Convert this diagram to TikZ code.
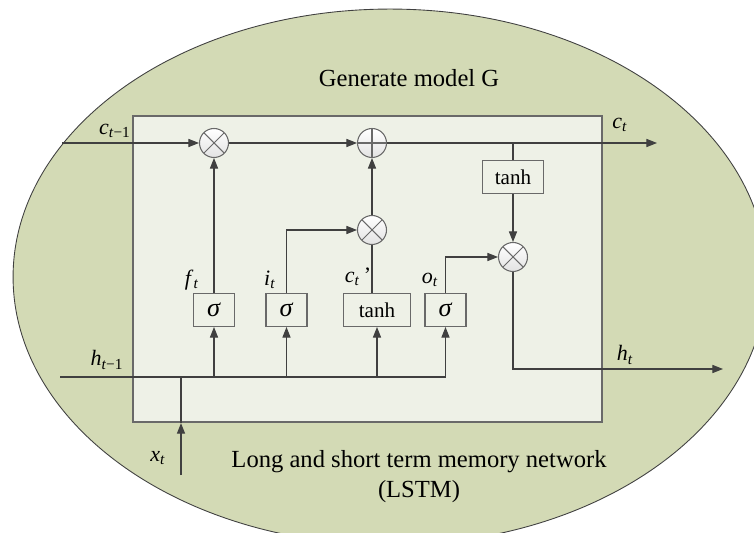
\documentclass[tikz,border=0pt]{standalone}
\usepackage{fontspec}
\setmainfont{Liberation Serif}
\usetikzlibrary{arrows.meta}

\definecolor{ovalgreen}{RGB}{211,218,181}
\definecolor{cellfill}{RGB}{238,241,231}
\definecolor{linegray}{RGB}{64,64,64}
\definecolor{framegray}{RGB}{105,105,105}

\newcommand{\sym}[2]{\textit{#1}\textsubscript{#2}}
\newcommand{\sig}{{\fontsize{15}{16}\selectfont\textit{σ}}}

\tikzset{
  flow/.style={draw=linegray, line width=0.6pt},
  arr/.style={flow, -{Triangle[length=6pt,width=4.6pt]}},
  gatebox/.style={draw=framegray, fill=cellfill, line width=0.6pt,
    minimum width=0.82cm, minimum height=0.66cm, inner sep=0pt,
    font=\fontsize{12}{14}\selectfont},
  opcircle/.style={circle, draw=framegray, line width=0.6pt,
    top color=white, bottom color=gray!22, minimum size=0.58cm, inner sep=0pt},
  mulop/.style={opcircle, path picture={
    \draw[framegray, line width=0.6pt] (path picture bounding box.center)
      +(45:0.3cm) -- +(225:0.3cm) +(135:0.3cm) -- +(-45:0.3cm);}},
  addop/.style={opcircle, path picture={
    \draw[framegray, line width=0.6pt] (path picture bounding box.center)
      +(0:0.3cm) -- +(180:0.3cm) +(90:0.3cm) -- +(-90:0.3cm);}},
  lab/.style={font=\fontsize{12.5}{14}\selectfont, inner sep=0pt},
  title/.style={font=\fontsize{14}{17}\selectfont, inner sep=0pt, align=center},
}

\begin{document}
\begin{tikzpicture}[x=0.02cm, y=-0.02cm]
\useasboundingbox (0,0) rectangle (754,533);
\clip (0,0) rectangle (754,533);

% ---------- Generate model G ----------
\draw[draw=linegray, fill=ovalgreen, line width=0.5pt]
  (390,277) ellipse [x radius=7.54cm, y radius=5.36cm];
\node[title] (gen) at (409,78) {Generate model G};

% ---------- LSTM cell ----------
\node[draw=framegray, fill=cellfill, line width=1pt, inner sep=0pt,
  minimum width=9.39cm, minimum height=6.13cm] (cell) at (367.5,269) {};

\node[mulop] (mf) at (214,143) {};
\node[addop] (ma) at (372,143) {};
\node[mulop] (mi) at (372,230) {};
\node[mulop] (mo) at (513,257) {};

\node[gatebox] (sf) at (214,310) {\sig};
\node[gatebox] (si) at (286.5,310) {\sig};
\node[gatebox, minimum width=1.34cm] (tc) at (377,310) {tanh};
\node[gatebox] (so) at (445.5,310) {\sig};
\node[gatebox, minimum width=1.22cm] (tu) at (513,177) {tanh};

\coordinate (cin) at (62,143);
\coordinate (cout) at (657,143);
\coordinate (hin) at (60,377);
\coordinate (hout) at (723,369);
\coordinate (xin) at (181,475);

% ---------- cell state ----------
\draw[arr] (cin) -- (mf);
\draw[arr] (mf) -- (ma);
\draw[arr] (ma) -- (cout);
\draw[flow] (ma -| tu) -- (tu);
\draw[arr] (tu) -- (mo);

% ---------- gates ----------
\draw[arr] (sf) -- (mf);
\draw[arr] (si.north) |- (mi);
\draw[flow] (tc.north -| mi) -- (mi);
\draw[arr] (mi) -- (ma);
\draw[arr] (so.north) |- (mo);
\draw[arr] (mo) |- (hout);

% ---------- inputs ----------
\draw[flow] (hin) -- (so.south |- hin);
\foreach \g in {sf,si,tc,so}
  \draw[arr] (\g.south |- hin) -- (\g.south);
\draw[arr] (xin) -- (xin |- cell.south);
\draw[flow] (xin |- cell.south) -- (xin |- hin);

% ---------- labels ----------
\node[lab] (lcprev) at (115,131) {\sym{c}{\textit{t}−1}};
\node[lab] (lcnext) at (620,125) {\sym{c}{\textit{t}}};
\node[lab] (lf) at (192,280) {\sym{f}{\textit{t}}};
\node[lab] (li) at (270,280) {\sym{i}{\textit{t}}};
\node[lab] (lc) at (358,277) {\sym{c}{\textit{t}}\,'};
\node[lab] (lo) at (430,280) {\sym{o}{\textit{t}}};
\node[lab] (lhprev) at (107,360) {\sym{h}{\textit{t}−1}};
\node[lab] (lhnext) at (625,355) {\sym{h}{\textit{t}}};
\node[lab] (lx) at (158,458) {\sym{x}{\textit{t}}};

\node[title] (lstm) at (419,477) {Long and short term memory network\\(LSTM)};

\end{tikzpicture}
\end{document}
